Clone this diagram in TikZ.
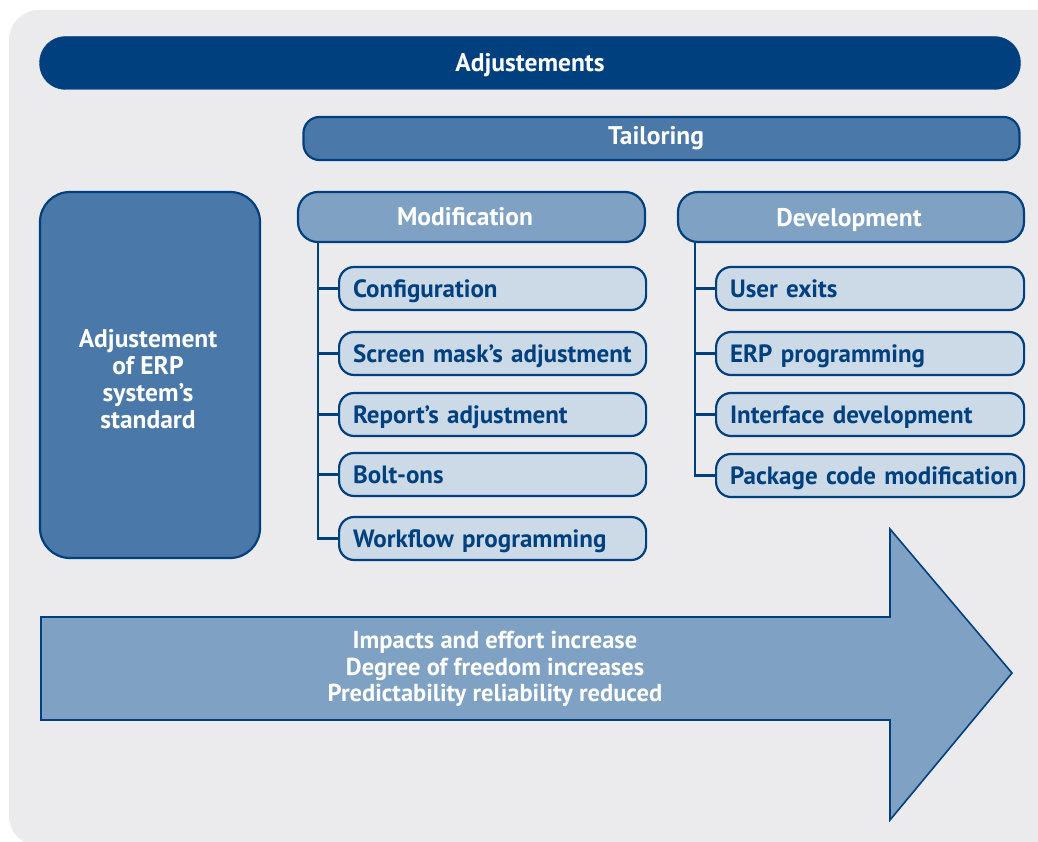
\documentclass[tikz,border=0pt]{standalone}
\usepackage{fontspec}
\setmainfont{PT Sans}
\definecolor{bgc}{HTML}{EBEBEE}
\definecolor{dblue}{HTML}{00407F}
\definecolor{mblue}{HTML}{4A78A8}
\definecolor{lblue}{HTML}{7FA1C4}
\definecolor{pblue}{HTML}{CCDAE8}
\tikzset{
  lw/.style={line width=2.2pt, draw=dblue},
  bigfont/.style={font=\bfseries\fontsize{25.5}{27}\selectfont},
  capc/.style={text height=17.7pt, text depth=0pt},
  topbar/.style={fill=dblue, draw=dblue, rounded corners=26pt, inner sep=0pt},
  tailbox/.style={lw, fill=mblue, rounded corners=16pt, inner sep=0pt},
  headbox/.style={lw, fill=lblue, rounded corners=20pt, inner sep=0pt, minimum height=50pt},
  wlabel/.style={text=white, bigfont, inner sep=0pt},
  subbox/.style={lw, fill=pblue, rounded corners=15pt, text=dblue, font=\bfseries\fontsize{25}{27}\selectfont, capc, inner xsep=14pt, inner ysep=0pt, minimum height=43pt, align=left, anchor=west},
  conn/.style={lw},
}
\begin{document}
\begin{tikzpicture}[x=1pt,y=-1pt]
\useasboundingbox (0,0) rectangle (1038,842);
\begin{scope}
\clip (0,0) rectangle (1038,842);
\fill[bgc, rounded corners=30pt] (9,10) rectangle (1070,846);
\end{scope}
% top bars
\node[topbar, minimum width=981pt, minimum height=53pt] (adj) at (530,63) {};
\node[wlabel, capc] (adjt) at (530,62.5) {Adjustements};
\node[tailbox, minimum width=716pt, minimum height=43pt] (tail) at (661.5,138.5) {};
\node[wlabel, capc] (tailt) at (656,135.5) {Tailoring};
% left box
\node[lw, fill=mblue, rounded corners=30pt, minimum width=220pt, minimum height=366pt, inner sep=0pt] (std) at (150,375) {};
\node[wlabel, align=center] (stdt) at (148,379) {Adjustement\\of ERP\\system's\\standard};
% heads
\node[headbox, minimum width=347pt] (mod) at (471.5,217) {};
\node[wlabel, capc] (modt) at (465,217) {Modification};
\node[headbox, minimum width=346pt] (dev) at (851,217) {};
\node[wlabel, capc] (devt) at (849,218) {Development};
% modification subs
\node[subbox, text width=279pt] (conf) at (338,288.5) {Configuration};
\node[subbox, text width=279pt] (scr) at (338,353.5) {Screen mask's adjustment};
\node[subbox, text width=279pt] (rep) at (338,414.5) {Report's adjustment};
\node[subbox, text width=279pt] (bolt) at (338,474.5) {Bolt-ons};
\node[subbox, text width=279pt] (wf) at (338,538.5) {Workflow programming};
% development subs
\node[subbox, text width=280pt] (ue) at (715,288.5) {User exits};
\node[subbox, text width=280pt] (erp) at (715,353.5) {ERP programming};
\node[subbox, text width=280pt] (intf) at (715,414.5) {Interface development};
\node[subbox, text width=280pt] (pkg) at (715,475.5) {\mbox{Package code modification}};
% connectors modification
\coordinate (mtop) at ([xshift=21pt]mod.south west);
\draw[conn] (mtop) |- (wf.west);
\foreach \n in {conf,scr,rep,bolt}{\draw[conn] (mtop |- \n.west) -- (\n.west);}
% connectors development
\coordinate (dtop) at ([xshift=18pt]dev.south west);
\draw[conn] (dtop) |- (pkg.west);
\foreach \n in {ue,erp,intf}{\draw[conn] (dtop |- \n.west) -- (\n.west);}
% arrow
\draw[line width=1.6pt, draw=dblue, fill=lblue] (41,617) -- (890,617) -- (890,529) -- (1012,673) -- (890,820) -- (890,720) -- (41,720) -- cycle;
\node[text=white, align=center, inner sep=0pt, font=\bfseries\fontsize{24.5}{26.5}\selectfont] (arr) at (495,669) {Impacts and effort increase\\Degree of freedom increases\\Predictability reliability reduced};
\end{tikzpicture}
\end{document}
